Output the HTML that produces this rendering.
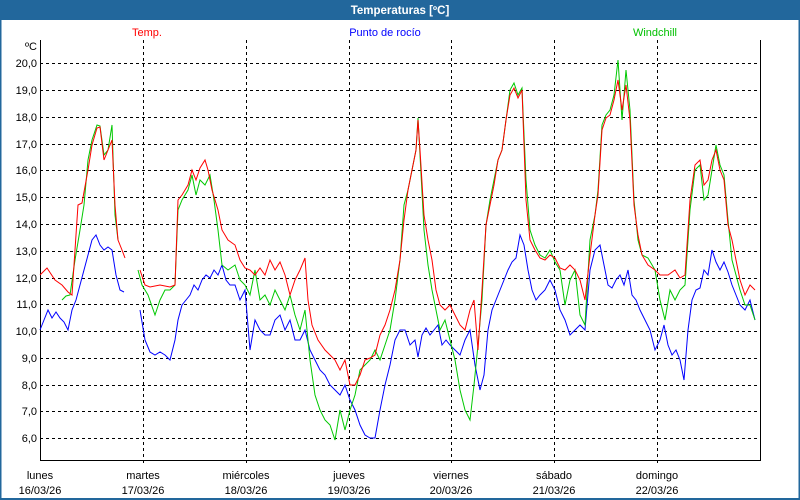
<!DOCTYPE html>
<html><head><meta charset="utf-8"><style>
body{margin:0;background:#fff}
svg{display:block;font-family:"Liberation Sans",sans-serif}
</style></head><body>
<svg width="800" height="500" viewBox="0 0 800 500">
<rect width="800" height="500" fill="#fff"/>
<rect x="0" y="0" width="800" height="20" fill="#22679c"/>
<rect x="0.5" y="0" width="799" height="499" fill="none" stroke="#22679c" stroke-width="2"/>
<text x="400" y="14" fill="#fff" font-size="11.5" font-weight="bold" text-anchor="middle">Temperaturas [ºC]</text>
<text x="147" y="36" fill="#ff0000" font-size="11" text-anchor="middle">Temp.</text>
<text x="385" y="36" fill="#0000ff" font-size="11" text-anchor="middle">Punto de rocío</text>
<text x="655" y="36" fill="#00c000" font-size="11" text-anchor="middle">Windchill</text>
<g stroke="#000" stroke-width="1" stroke-dasharray="3,3" fill="none">
<path d="M40 63.5H760M40 90.5H760M40 117.5H760M40 144.5H760M40 170.5H760M40 197.5H760M40 224.5H760M40 251.5H760M40 278.5H760M40 304.5H760M40 331.5H760M40 358.5H760M40 385.5H760M40 411.5H760M40 438.5H760"/>
<path d="M143.5 40V466M246.5 40V466M349.5 40V466M451.5 40V466M554.5 40V466M657.5 40V466"/>
</g>
<path d="M40.5 40V460.5H760.5V40" fill="none" stroke="#000" stroke-width="1"/>
<g font-size="11" fill="#000" text-anchor="end">
<text x="37" y="50">ºC</text>
<text x="37" y="67">20,0</text><text x="37" y="94">19,0</text><text x="37" y="121">18,0</text><text x="37" y="148">17,0</text><text x="37" y="174">16,0</text><text x="37" y="201">15,0</text><text x="37" y="228">14,0</text><text x="37" y="255">13,0</text><text x="37" y="282">12,0</text><text x="37" y="308">11,0</text><text x="37" y="335">10,0</text><text x="37" y="362">9,0</text><text x="37" y="389">8,0</text><text x="37" y="415">7,0</text><text x="37" y="442">6,0</text>
</g>
<g font-size="11" fill="#000" text-anchor="middle">
<text x="40" y="479">lunes</text><text x="40" y="494">16/03/26</text>
<text x="143" y="479">martes</text><text x="143" y="494">17/03/26</text>
<text x="246" y="479">miércoles</text><text x="246" y="494">18/03/26</text>
<text x="349" y="479">jueves</text><text x="349" y="494">19/03/26</text>
<text x="451" y="479">viernes</text><text x="451" y="494">20/03/26</text>
<text x="554" y="479">sábado</text><text x="554" y="494">21/03/26</text>
<text x="657" y="479">domingo</text><text x="657" y="494">22/03/26</text>
</g>
<g fill="none" stroke-width="1">
<polyline stroke="#0000ff" points="40,330 44,320 48,310 52,318 56,312 60,318 64,322 68,330 72,310 76,300 80,285 84,270 88,255 92,240 96,235 100,245 104,250 108,247 112,250 116,275 120,290 124,292"/>
<polyline stroke="#0000ff" points="140,310 145,340 150,352 155,355 160,352 165,355 170,360 175,340 178,320 182,305 186,300 190,295 194,285 198,290 202,280 206,275 210,278 214,270 218,275 222,265 226,280 230,285 235,285 240,300 245,290 250,350 255,320 260,330 265,335 270,335 275,320 280,315 285,330 290,320 295,340 300,340 305,330 310,350 315,360 320,370 325,375 330,385 335,390 340,395 345,385 350,400 355,410 360,425 365,435 370,438 375,438 380,410 385,385 390,365 395,340 400,330 405,330 410,345 415,340 418,357 422,335 426,328 430,335 434,330 438,325 442,345 446,340 450,345 455,350 460,355 465,340 470,330 475,365 480,390 484,375 488,330 492,310 496,300 500,290 504,280 508,270 512,262 516,258 520,235 524,245 528,270 532,290 536,300 540,295 545,290 550,280 555,290 560,310 565,320 570,335 575,330 580,325 585,330 590,270 595,250 600,245 604,265 608,285 612,288 616,280 620,275 624,285 628,270 632,295 636,300 640,310 645,320 650,330 655,350 660,340 664,325 668,345 672,355 676,350 680,360 684,380 688,330 692,300 696,290 700,288 704,270 708,275 712,250 716,262 720,270 724,262 728,272 732,285 736,295 740,305 745,310 750,300 755,320"/>
<polyline stroke="#00c800" points="62,300 66,296 70,295 75,260 80,230 84,205 88,160 92,140 97,125 100,126 104,155 108,150 112,125 115,215 118,240"/>
<polyline stroke="#00c800" points="138,270 142,285 148,295 155,315 160,300 165,290 170,290 175,285 178,210 182,200 188,190 192,175 196,195 200,180 205,185 210,175 214,200 218,230 222,265 228,270 235,265 240,280 245,285 250,295 255,270 260,300 265,295 270,305 275,290 280,300 285,310 290,295 295,315 300,330 305,310 310,360 315,395 320,410 325,420 330,425 335,440 340,410 345,430 350,410 355,395 360,370 365,365 370,360 375,350 380,360 385,345 390,330 395,300 400,260 404,205 408,190 412,170 416,150 418,118 420,155 424,230 428,265 432,290 436,310 440,330 445,320 450,340 455,360 460,390 465,410 470,420 474,385 478,345 482,300 486,225 490,200 494,180 498,160 502,150 506,120 510,90 514,83 518,95 522,88 526,180 530,230 535,245 540,255 545,258 550,250 555,262 560,270 565,305 570,280 575,270 580,315 585,325 590,240 595,215 598,190 602,125 606,115 610,110 614,95 618,60 622,120 626,70 630,110 634,200 638,240 642,255 648,258 655,270 660,300 665,320 670,290 675,300 680,290 685,285 690,210 695,170 700,165 704,200 708,195 712,170 716,145 720,165 724,175 728,220 732,260 736,275 740,290 745,305 750,305 755,320"/>
<polyline stroke="#ff0000" points="40,275 47,268 55,280 62,285 68,292 72,295 78,205 82,203 88,170 92,145 97,128 100,127 104,160 108,150 112,140 115,205 118,240 122,250 125,258"/>
<polyline stroke="#ff0000" points="140,270 145,285 150,287 160,285 170,287 175,285 178,200 182,195 188,185 192,170 196,180 200,168 205,160 208,170 212,190 218,210 222,230 228,240 235,245 240,260 245,268 250,270 255,275 260,268 265,275 270,260 275,270 280,262 285,275 290,295 295,280 300,270 305,258 308,300 312,325 318,340 325,350 330,355 335,360 340,370 345,360 350,385 355,385 360,375 365,360 370,358 375,355 380,335 385,325 390,310 395,290 400,260 404,220 408,190 412,170 416,150 418,120 420,150 424,215 428,240 432,260 436,290 440,305 445,310 450,305 455,315 460,325 465,330 470,310 474,300 478,350 482,290 486,225 490,205 494,185 498,160 502,150 506,120 510,95 514,88 518,98 522,90 526,200 530,240 535,250 540,258 545,260 550,255 555,258 560,268 565,270 570,265 575,270 580,280 585,300 590,255 595,215 598,195 602,130 606,118 610,115 614,100 618,80 622,110 626,85 630,120 634,205 638,235 642,255 648,265 655,270 660,275 668,275 675,270 680,278 685,275 690,200 695,165 700,160 704,185 708,180 712,160 716,150 720,170 724,180 728,225 732,240 736,260 740,280 745,295 750,285 755,290"/>
</g>
</svg>
</body></html>
